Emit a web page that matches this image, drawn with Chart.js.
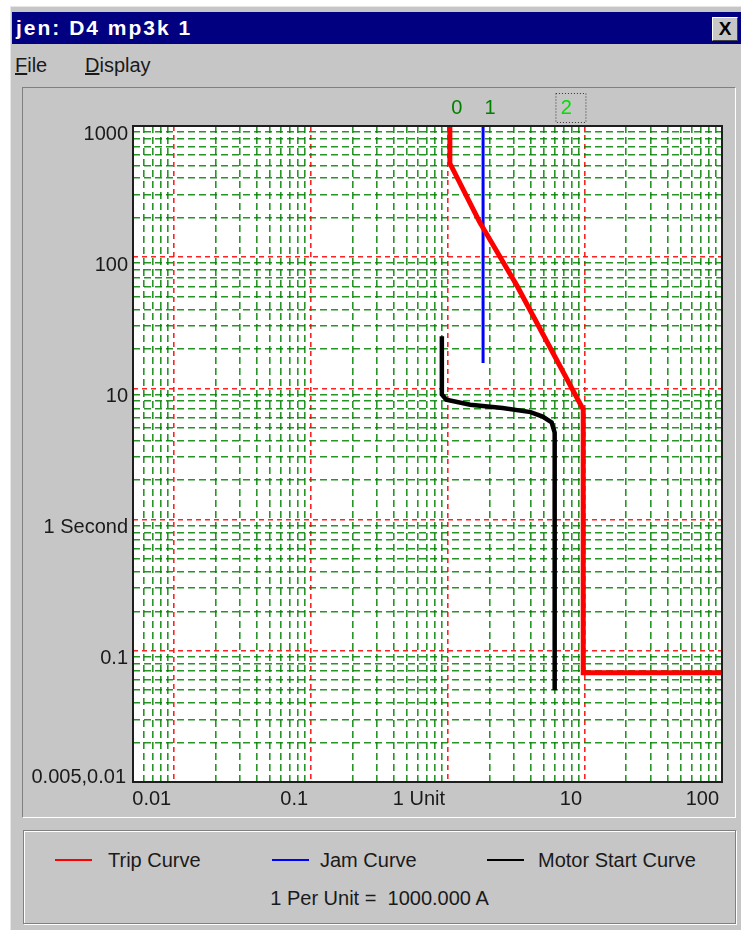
<!DOCTYPE html>
<html>
<head>
<meta charset="utf-8">
<title>jen: D4 mp3k 1</title>
<script src="https://cdn.jsdelivr.net/npm/chart.js@4.4.0/dist/chart.umd.min.js"></script>
<style>
    html, body { margin: 0; padding: 0; background: #fff; }
    body { width: 741px; height: 930px; position: relative; overflow: hidden;
           font-family: "Liberation Sans", Arial, sans-serif; color: #1a1a1a; }
    .abs { position: absolute; }
    #win { left: 10px; top: 6px; width: 760px; height: 940px; background: #c6c6c6;
           border-left: 1px solid #e6e6e6; border-top: 1px solid #e6e6e6; }
    #titlebar { left: 12px; top: 12px; width: 729px; height: 32px; background: #000080;
                color: #fff; font-weight: bold; font-size: 21px; letter-spacing: 2px;
                line-height: 32px; padding-left: 4px; box-sizing: border-box; }
    #closebtn { left: 712px; top: 17px; width: 26px; height: 24px; box-sizing: border-box;
                background: #c6c6c6; border-top: 1px solid #fff; border-left: 1px solid #fff;
                border-right: 1px solid #404040; border-bottom: 1px solid #404040;
                font-weight: bold; font-size: 19px; line-height: 22px; text-align: center; color: #000; }
    .menu { top: 53px; font-size: 20px; line-height: 24px; }
    #chartPanel { left: 22px; top: 87px; width: 714px; height: 731px; box-sizing: border-box;
                  border-top: 1px solid #808080; border-left: 1px solid #808080;
                  border-right: 1px solid #fff; border-bottom: 1px solid #fff; }
    #legendPanel { left: 23px; top: 830px; width: 713px; height: 94px; box-sizing: border-box;
                   border: 1px solid #808080; box-shadow: inset 1px 1px 0 #fff, 1px 1px 0 #fff; }
    #chart { left: 22px; top: 87px; }
    .lgLine { height: 2px; width: 37px; }
    .lgText { font-size: 20px; line-height: 24px; white-space: pre; }
</style>
</head>
<body>
<div id="win" class="abs"></div>
<div id="titlebar" class="abs">jen: D4 mp3k 1</div>
<div id="closebtn" class="abs">X</div>
<div class="abs menu" style="left:15px"><u>F</u>ile</div>
<div class="abs menu" style="left:85px"><u>D</u>isplay</div>
<div id="chartPanel" class="abs"></div>
<div id="legendPanel" class="abs"></div>
<canvas id="chart" class="abs" width="713" height="730"></canvas>
<div id="legend"></div>

<script>
// axis ranges (per unit current vs seconds, both log)
const xMin = 0.005, xMax = 100;
const yMin = 0.01, yMax = 1000;

// decade lines and their labels
const xMajorTicks = [0.01, 0.1, 1, 10, 100];
const xMajorLabels = ['0.01', '0.1', '1 Unit', '10', '100'];
const yMajorTicks = [0.01, 0.1, 1, 10, 100, 1000];
const yMajorLabels = ['', '0.1', '1 Second', '10', '100', '1000'];
const cornerLabel = '0.005,0.01';
const minorMultipliers = [2, 3, 4, 5, 6, 7, 8, 9];

// curves
const seriesNames = ['Trip Curve', 'Jam Curve', 'Motor Start Curve'];
const tripX = [1.03, 1.03, 1.7, 3.2, 9.7, 9.7, 100];
const tripY = [1000, 520, 185, 60, 6.9, 0.068, 0.068];
const jamX = [1.8, 1.8];
const jamY = [1000, 15.6];
const motorX = [0.9, 0.9, 0.97, 1.45, 2.5, 4.0, 4.9, 5.7, 6.0, 6.0];
const motorY = [25, 9.0, 8.2, 7.5, 7.1, 6.6, 6.1, 5.5, 4.6, 0.05];

// cursor markers above the plot
const markerLabels = ['0', '1', '2'];
const markerX = [1.03, 1.8, 6.5];

const perUnitText = '1 Per Unit =  1000.000 A';

const SERIES_COLORS = ['#ff0000', '#0000ff', '#000000'];
const MAJOR_GRID = 'rgba(255, 10, 10, 0.9)';
const MINOR_GRID = 'rgba(0, 130, 0, 0.85)';
const FONT = '"Liberation Sans", Arial, sans-serif';

function toPoints(xs, ys) {
    return xs.map((x, i) => ({ x: x, y: ys[i] }));
}

// major decades plus 2..9 multiples inside the range
function buildTicks(majors, min, max) {
    const ticks = [];
    const starts = [majors[0] / 10].concat(majors);
    starts.forEach(d => {
        minorMultipliers.forEach(m => {
            const v = Number((d * m).toPrecision(6));
            if (v > min && v < max) ticks.push({ value: v, major: false });
        });
    });
    majors.forEach(v => ticks.push({ value: v, major: true }));
    return ticks.sort((a, b) => a.value - b.value);
}

function labelFor(majors, labels) {
    return function(value) {
        const i = majors.findIndex(m => Math.abs(m - value) / m < 1e-6);
        return i >= 0 ? labels[i] : '';
    };
}

const gridColor = ctx => (ctx.tick && ctx.tick.major) ? MAJOR_GRID : MINOR_GRID;
const gridDash = ctx => (ctx.tick && ctx.tick.major) ? [5, 4] : [7, 4];

const plotDecor = {
    id: 'plotDecor',
    beforeDraw(chart) {
        const { ctx, chartArea: a } = chart;
        ctx.save();
        ctx.fillStyle = '#fff';
        ctx.fillRect(a.left, a.top, a.width, a.height);
        ctx.restore();
    },
    afterDraw(chart) {
        const { ctx, chartArea: a } = chart;
        const xs = chart.scales.x;
        ctx.save();
        // frame round the plot
        ctx.strokeStyle = '#1e1e1e';
        ctx.lineWidth = 2;
        ctx.strokeRect(a.left, a.top, a.width, a.height);

        // corner label
        ctx.font = '20px ' + FONT;
        ctx.fillStyle = '#1a1a1a';
        ctx.textAlign = 'right';
        ctx.textBaseline = 'alphabetic';
        ctx.fillText(cornerLabel, a.left - 7, a.bottom + 1);

        // markers
        ctx.textAlign = 'center';
        ctx.textBaseline = 'middle';
        markerLabels.forEach((lab, i) => {
            const px = xs.getPixelForValue(markerX[i]) + 7;
            const last = i === markerLabels.length - 1;
            ctx.fillStyle = last ? '#00e000' : '#008000';
            ctx.fillText(lab, px, 21);
            if (last) {
                ctx.strokeStyle = '#333';
                ctx.lineWidth = 1;
                ctx.setLineDash([1, 2]);
                ctx.strokeRect(px - 10.5, 6.5, 30, 29);
                ctx.setLineDash([]);
            }
        });
        ctx.restore();
    }
};

const xTicks = buildTicks(xMajorTicks, xMin, xMax);
const yTicks = buildTicks(yMajorTicks, yMin, yMax);

new Chart(document.getElementById('chart'), {
    type: 'scatter',
    data: {
        datasets: [
            { label: seriesNames[0], data: toPoints(tripX, tripY), borderColor: SERIES_COLORS[0], borderWidth: 5 },
            { label: seriesNames[1], data: toPoints(jamX, jamY), borderColor: SERIES_COLORS[1], borderWidth: 3 },
            { label: seriesNames[2], data: toPoints(motorX, motorY), borderColor: SERIES_COLORS[2], borderWidth: 4.5 }
        ].map(ds => Object.assign(ds, { showLine: true, pointRadius: 0, pointHoverRadius: 0, tension: 0, fill: false }))
    },
    options: {
        responsive: false,
        animation: false,
        events: [],
        layout: { padding: { left: 0, top: 39, right: 13, bottom: 0 } },
        plugins: {
            legend: { display: false },
            tooltip: { enabled: false }
        },
        scales: {
            x: {
                type: 'logarithmic',
                min: xMin,
                max: xMax,
                afterBuildTicks: axis => { axis.ticks = xTicks.map(t => Object.assign({}, t)); },
                afterFit: axis => { axis.height = 35; },
                grid: { color: gridColor, lineWidth: 1.6, drawTicks: false },
                border: { display: false, dash: gridDash },
                ticks: {
                    autoSkip: false, maxRotation: 0, minRotation: 0,
                    align: 'end', labelOffset: -3, padding: 5,
                    color: '#1a1a1a', font: { family: FONT, size: 20 },
                    callback: labelFor(xMajorTicks, xMajorLabels)
                }
            },
            y: {
                type: 'logarithmic',
                min: yMin,
                max: yMax,
                afterBuildTicks: axis => { axis.ticks = yTicks.map(t => Object.assign({}, t)); },
                afterFit: axis => { axis.width = 111; },
                grid: { color: gridColor, lineWidth: 1.6, drawTicks: false },
                border: { display: false, dash: gridDash },
                ticks: {
                    autoSkip: false,
                    labelOffset: 8, padding: 5,
                    color: '#1a1a1a', font: { family: FONT, size: 20 },
                    callback: labelFor(yMajorTicks, yMajorLabels)
                }
            }
        }
    },
    plugins: [plotDecor]
});

// legend panel below the chart
const legend = document.getElementById('legend');
const lineLeft = [55, 272, 487];
const textLeft = [108, 320, 538];
seriesNames.forEach((name, i) => {
    const ln = document.createElement('div');
    ln.className = 'abs lgLine';
    ln.style.left = lineLeft[i] + 'px';
    ln.style.top = '859px';
    ln.style.background = SERIES_COLORS[i];
    legend.appendChild(ln);
    const tx = document.createElement('div');
    tx.className = 'abs lgText';
    tx.style.left = textLeft[i] + 'px';
    tx.style.top = '848px';
    tx.textContent = name;
    legend.appendChild(tx);
});
const pu = document.createElement('div');
pu.className = 'abs lgText';
pu.style.left = '23px';
pu.style.width = '713px';
pu.style.textAlign = 'center';
pu.style.top = '886px';
pu.textContent = perUnitText;
legend.appendChild(pu);
</script>
</body>
</html>
